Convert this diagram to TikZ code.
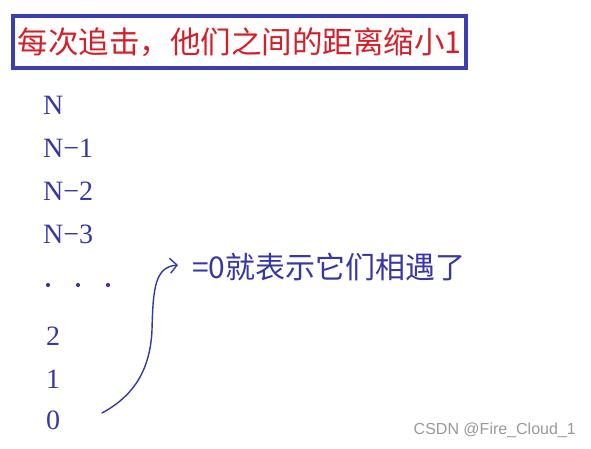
\documentclass[tikz,border=0pt]{standalone}
\usepackage{fontspec}
\setmainfont{Liberation Serif}
\newfontfamily\cjk{Noto Sans CJK SC}
\newfontfamily\wmfont{Liberation Sans}
\usetikzlibrary{arrows.meta}
\definecolor{boxblue}{RGB}{60,60,180}
\definecolor{txtblue}{RGB}{55,55,165}
\definecolor{titlered}{RGB}{215,30,40}
\tikzset{
  numlbl/.style={anchor=base west, inner sep=0pt, text=txtblue, font=\fontsize{28}{28}\selectfont},
  cjklbl/.style={anchor=base west, inner sep=0pt, text=txtblue, font=\cjk\fontsize{30}{30}\selectfont},
  titlebox/.style={draw=boxblue, line width=3.2pt, text=titlered, inner sep=0pt,
    minimum width=453pt, minimum height=52pt, font=\cjk\fontsize{30.5}{30.5}\selectfont},
  handarrow/.style={draw=txtblue, line width=1.4pt, line cap=round, line join=round,
    -{Straight Barb[length=7pt,width=15pt,line width=1.4pt]}},
  dotmark/.style={circle, fill=txtblue, inner sep=0pt, minimum size=4.2pt},
  wmark/.style={anchor=base east, inner sep=0pt, text=black!40, font=\wmfont\fontsize{16}{16}\selectfont}
}
\begin{document}
\begin{tikzpicture}[x=1pt,y=-1pt]
\useasboundingbox (0,0) rectangle (591,448);
\fill[white] (0,0) rectangle (591,448);
\node[titlebox] (title) at (239.5,42) {每次追击，他们之间的距离缩小1};
\node[numlbl] (n0) at (43,114) {N};
\node[numlbl] (n1) at (43,157) {N−1};
\node[numlbl] (n2) at (43,200) {N−2};
\node[numlbl] (n3) at (43,243) {N−3};
\node[dotmark] (d1) at (48,285) {};
\node[dotmark] (d2) at (78,285) {};
\node[dotmark] (d3) at (108,285) {};
\node[numlbl] (two) at (46,345) {2};
\node[numlbl] (one) at (46,388) {1};
\node[numlbl] (zero) at (46,429) {0};
\node[cjklbl] (meet) at (192,278) {=0就表示它们相遇了};
\coordinate (s) at (102,413);
\coordinate (e) at (178,265);
\draw[handarrow] (s) .. controls (126,400) and (150,378) .. (152,330)
  .. controls (153,288) and (155,267) .. (e);
\node[wmark] (wm) at (576,434) {CSDN @Fire\_Cloud\_1};
\end{tikzpicture}
\end{document}
